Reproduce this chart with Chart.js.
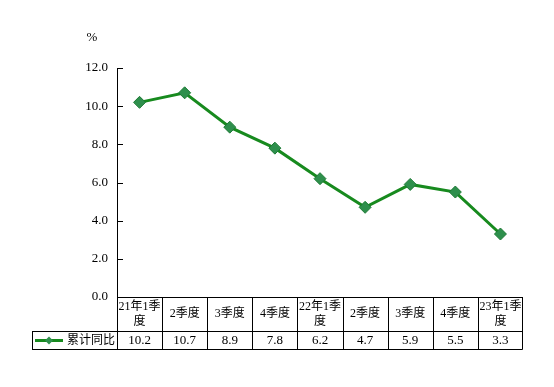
<!DOCTYPE html>
<html>
<head>
<meta charset="utf-8">
<script src="https://cdn.jsdelivr.net/npm/chart.js@4.4.1/dist/chart.umd.min.js"></script>
<style>
  html, body { margin: 0; padding: 0; background: #fff; }
  #wrap { width: 554px; height: 387px; }
</style>
</head>
<body>
<div id="wrap"><canvas id="chart"></canvas></div>
<script>
// 数据
const categories = [['21年1季', '度'], ['2季度'], ['3季度'], ['4季度'], ['22年1季', '度'], ['2季度'], ['3季度'], ['4季度'], ['23年1季', '度']];
const seriesName = '累计同比';
const cumulativeYoY = [10.2, 10.7, 8.9, 7.8, 6.2, 4.7, 5.9, 5.5, 3.3];
const yUnit = '%';
const yMin = 0, yMax = 12, yStep = 2;

const SERIF = '"Liberation Serif", "Times New Roman", "Noto Sans CJK SC", serif';
const lineColor = '#178a1e';
const markerFill = '#2e8f4c';
const markerBorder = '#1d7a35';

// 底部数据表 + 内侧刻度 + 单位
const tablePlugin = {
    id: 'dataTable',
    afterDraw(chart) {
        const ctx = chart.ctx;
        const x = chart.scales.x;
        const y = chart.scales.y;
        const area = chart.chartArea;
        const n = categories.length;
        const cellW = (area.right - area.left) / n;
        const row1Top = area.bottom;
        const row1Bottom = row1Top + 34;
        const row2Bottom = row1Bottom + 18;
        const legendLeft = 32;

        ctx.save();
        ctx.strokeStyle = '#000';
        ctx.lineWidth = 1;

        // 内侧刻度线
        y.ticks.forEach(t => {
            const py = Math.round(y.getPixelForValue(t.value)) + 0.5;
            ctx.beginPath();
            ctx.moveTo(area.left, py);
            ctx.lineTo(area.left + 6, py);
            ctx.stroke();
        });

        // 表格线
        const L = Math.round(area.left) + 0.5;
        const R = Math.round(area.right) - 0.5;
        const hline = (x1, x2, yy) => {
            ctx.beginPath(); ctx.moveTo(x1, Math.round(yy) + 0.5); ctx.lineTo(x2, Math.round(yy) + 0.5); ctx.stroke();
        };
        const vline = (xx, y1, y2) => {
            ctx.beginPath(); ctx.moveTo(Math.round(xx) + 0.5, y1); ctx.lineTo(Math.round(xx) + 0.5, y2); ctx.stroke();
        };
        hline(L, R, row1Top);
        hline(legendLeft, R, row1Bottom);
        hline(legendLeft, R, row2Bottom);
        for (let i = 0; i <= n; i++) {
            const xx = i === n ? R - 0.5 : area.left + i * cellW;
            vline(xx, row1Top, row2Bottom + 0.5);
        }
        vline(legendLeft, row1Bottom, row2Bottom + 0.5);

        // 类别标签
        ctx.fillStyle = '#000';
        ctx.textAlign = 'center';
        ctx.textBaseline = 'middle';
        ctx.font = '12px ' + SERIF;
        categories.forEach((lab, i) => {
            const cx = x.getPixelForValue(i);
            const midY = (row1Top + row1Bottom) / 2;
            if (lab.length === 1) {
                ctx.fillText(lab[0], cx, midY);
            } else {
                ctx.fillText(lab[0], cx, midY - 7);
                ctx.fillText(lab[1], cx, midY + 8);
            }
        });

        // 数值
        ctx.font = '13px ' + SERIF;
        const valY = (row1Bottom + row2Bottom) / 2 + 1;
        cumulativeYoY.forEach((v, i) => {
            ctx.fillText(v.toFixed(1), x.getPixelForValue(i), valY);
        });

        // 图例
        const ly = Math.round((row1Bottom + row2Bottom) / 2) + 0.5;
        ctx.strokeStyle = lineColor;
        ctx.lineWidth = 3;
        ctx.beginPath(); ctx.moveTo(35, ly); ctx.lineTo(63, ly); ctx.stroke();
        ctx.fillStyle = markerFill;
        ctx.beginPath();
        ctx.moveTo(49, ly - 4); ctx.lineTo(53, ly); ctx.lineTo(49, ly + 4); ctx.lineTo(45, ly);
        ctx.closePath(); ctx.fill();
        ctx.fillStyle = '#000';
        ctx.textAlign = 'left';
        ctx.font = '12px ' + SERIF;
        ctx.fillText(seriesName, 67, valY);

        // 单位
        ctx.font = '13px ' + SERIF;
        ctx.textAlign = 'center';
        ctx.fillText(yUnit, 92, 38);
        ctx.restore();
    }
};

new Chart(document.getElementById('chart'), {
    type: 'line',
    data: {
        labels: categories,
        datasets: [{
            label: seriesName,
            data: cumulativeYoY,
            borderColor: lineColor,
            borderWidth: 3,
            pointStyle: 'rectRot',
            pointRadius: 6,
            pointBackgroundColor: markerFill,
            pointBorderColor: markerBorder,
            pointBorderWidth: 1,
            tension: 0,
            fill: false
        }]
    },
    options: {
        responsive: true,
        maintainAspectRatio: false,
        animation: false,
        layout: { padding: { left: 0, top: 68, right: 31, bottom: 90 } },
        plugins: { legend: { display: false }, tooltip: { enabled: false } },
        scales: {
            x: { display: false, offset: true },
            y: {
                min: yMin, max: yMax,
                afterFit: s => { s.width = 117; },
                ticks: {
                    stepSize: yStep,
                    color: '#000',
                    padding: 9,
                    font: { family: SERIF, size: 13 },
                    callback: v => v.toFixed(1)
                },
                grid: { display: true, drawOnChartArea: false, drawTicks: false },
                border: { display: true, color: '#000', width: 1 }
            }
        }
    },
    plugins: [tablePlugin]
});
</script>
</body>
</html>
